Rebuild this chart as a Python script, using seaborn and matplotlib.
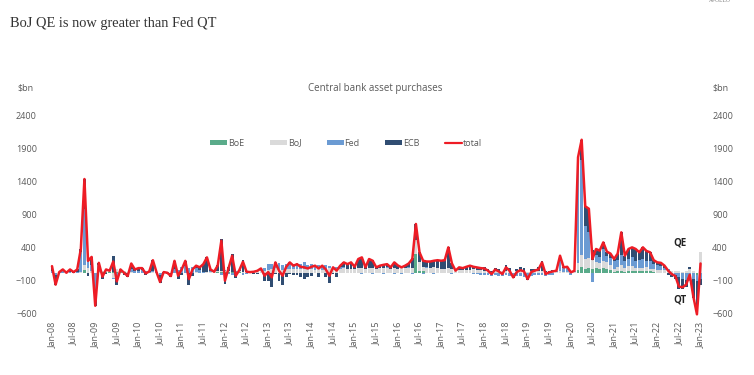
import numpy as np
import pandas as pd
import matplotlib
matplotlib.use("Agg")
import matplotlib.pyplot as plt
import seaborn as sns
from matplotlib.patches import Patch
from matplotlib.lines import Line2D

# monthly flows, $bn, Jan-08 .. Jan-23
months = pd.date_range("2008-01-01", "2023-01-01", freq="MS")

total = (
    [110, -170, 20, 60, 10, 60, 20, 60, 370, 1430, 190, 250]        # 2008
    + [-490, 160, -50, 60, 40, 180, -120, 60, 10, -40, 150, 60]     # 2009
    + [80, 80, 0, 30, 200, 20, -130, 20, 10, -40, 190, -35]         # 2010
    + [60, 190, -85, 60, 117, 92, 140, 243, 60, 25, 120, 495]       # 2011
    + [-110, 80, 268, -35, 50, 177, 25, 20, 25, 40, 75, -35]        # 2012
    + [20, -60, 167, 42, -35, 100, 167, 117, 140, 100, 92, 75]      # 2013
    + [100, 117, 75, 117, 60, -35, 92, 42, 117, 167, 140, 167]      # 2014
    + [100, 218, 243, 92, 218, 192, 92, 117, 130, 140, 92, 167]     # 2015
    + [120, 92, 117, 150, 218, 749, 320, 192, 180, 180, 192, 200]   # 2016
    + [192, 200, 395, 150, 42, 92, 80, 100, 117, 100, 90, 80]       # 2017
    + [75, 42, -10, 60, 30, -10, 92, 40, -60, 20, 50, 30]           # 2018
    + [-85, 20, 42, 60, 167, -10, 17, 30, 42, 268, 92, 100]         # 2019
    + [17, 40, 1760, 2025, 1017, 980, 218, 370, 345, 470, 330, 300] # 2020
    + [218, 300, 622, 268, 370, 395, 370, 320, 395, 340, 320, 200]  # 2021
    + [167, 160, 117, 42, -10, -40, -200, -210, -170, -20, -350, -620]  # 2022
    + [150]                                                         # 2023
)

fed = (
    [20, -20, 10, 20, 0, 10, 0, 10, 300, 850, 150, 100]
    + [-300, 100, 0, 40, 0, -20, -40, 30, 10, 0, 50, 30]
    + [30, 40, 20, 10, 20, 10, -20, 0, 10, 0, 60, 40]
    + [80, 100, 80, 90, 70, 40, 10, 0, 10, 0, 10, -20]
    + [20, -10, -20, 10, 0, -20, -10, 0, 10, 20, 30, 40]
    + [90, 80, 100, 90, 80, 90, 110, 80, 90, 80, 100, 70]
    + [70, 60, 60, 50, 50, 40, 40, 30, 30, 20, 0, 0]
    + [0, 10, -10, 0, 10, -10, 0, 0, -10, 10, 0, -10]
    + [0, -10, 0, 10, -10, 0, 0, -10, 10, 0, -10, 0]
    + [0, 0, 0, -10, 0, 0, 0, 0, 0, -10, -10, -20]
    + [-20, -20, -40, -20, -40, -40, -30, -40, -50, -40, -40, -50]
    + [-60, -40, -30, -30, -20, -40, -20, -20, 10, 150, 60, 60]
    + [-20, 10, 1550, 1450, 500, 400, -130, 100, 80, 180, 100, 120]
    + [120, 110, 150, 100, 110, 130, 110, 120, 140, 100, 120, 80]
    + [70, 60, 40, 20, -20, -30, -60, -80, -100, -120, -80, -100]
    + [-80]
)

ecb = (
    [80, -150, 0, 30, 0, 40, 10, 40, 50, 450, -40, 120]
    + [-200, 40, -80, -10, 10, 250, -140, 0, -30, -60, 80, 20]
    + [40, 30, -30, 10, 160, 0, -120, 10, -10, -50, 120, -90]
    + [-30, 80, -170, -40, 30, 40, 120, 220, 30, 0, 80, 480]
    + [-160, 60, 260, -70, 20, 170, 10, 0, -10, -10, 15, -110]
    + [-120, -210, -10, -110, -170, -50, -10, -30, -20, -50, -80, -60]
    + [-40, 0, -50, 10, -60, -150, -10, -50, 20, 70, 70, 100]
    + [30, 130, 170, 20, 130, 120, 20, 40, 60, 50, 20, 100]
    + [50, 20, 40, 60, 140, 250, 150, 100, 90, 100, 110, 120]
    + [120, 130, 320, 90, 0, 40, 30, 50, 60, 50, 50, 50]
    + [60, 30, 10, 50, 40, 0, 80, 40, -20, 30, 50, 40]
    + [-40, 30, 40, 50, 150, 10, 20, 30, 10, 80, 10, 20]
    + [10, 10, 50, 300, 300, 350, 150, 90, 100, 100, 60, 60]
    + [30, 100, 350, 80, 150, 150, 180, 120, 170, 150, 130, 60]
    + [40, 50, 30, -20, -30, -50, -180, -150, -110, 40, -300, -500]
    + [-100]
)

boj = (
    [10, 0, 10, 10, 10, 10, 10, 10, 10, 80, 70, 20]
    + [10, 20, 10, 10, 10, -70, 40, 10, 10, 10, 10, 10]
    + [10, 10, 10, 10, 20, 10, 10, 10, 10, 10, 10, 15]
    + [10, 10, 5, 10, 17, 12, 10, 23, 20, 15, 10, 15]
    + [10, 10, 10, 15, 10, 15, 15, 10, 15, 20, 20, 25]
    + [50, 70, 77, 62, 55, 60, 67, 67, 70, 70, 72, 65]
    + [70, 57, 65, 57, 70, 75, 62, 62, 67, 77, 70, 67]
    + [70, 78, 83, 72, 78, 82, 72, 77, 80, 80, 72, 77]
    + [70, 82, 77, 80, 88, 200, 130, 72, 70, 70, 82, 70]
    + [62, 60, 65, 60, 42, 52, 50, 50, 57, 60, 50, 50]
    + [35, 32, 20, 30, 30, 30, 42, 40, 10, 30, 40, 40]
    + [15, 30, 32, 40, 37, 20, 17, 20, 22, 38, 22, 20]
    + [27, 20, 110, 180, 150, 150, 130, 100, 100, 110, 100, 70]
    + [40, 60, 90, 60, 70, 80, 50, 50, 55, 60, 40, 40]
    + [50, 45, 40, 40, 40, 40, 40, 20, 40, 60, 30, 0]
    + [330]
)

boe = (
    [0, 0, 0, 0, 0, 0, 0, 0, 10, 50, 10, 10]
    + [0, 0, 20, 20, 20, 20, 20, 20, 20, 10, 10, 0]
    + [0] * 12
    + [0, 0, 0, 0, 0, 0, 0, 0, 0, 10, 20, 20]
    + [20, 20, 18, 10, 20, 12, 10, 10, 10, 10, 10, 10]
    + [0] * 36
    + [0, 0, 0, 0, 0, 300, 40, 30, 10, 10, 10, 10]
    + [10, 10, 10, 10, 0, 0, 0, 0, 0, 0, 0, 0]
    + [0] * 24
    + [0, 0, 50, 95, 67, 80, 68, 80, 65, 80, 70, 50]
    + [28, 30, 32, 28, 40, 35, 30, 30, 30, 30, 30, 20]
    + [7, 5, 7, 2, 0, 0, 0, 0, 0, 0, 0, -20]
    + [0]
)

BANKS = ["BoE", "BoJ", "Fed", "ECB"]
COLORS = {"BoE": "#5aab8a", "BoJ": "#dadada", "Fed": "#6b9bd3", "ECB": "#304d72"}
RED = "#ee1c25"
GREY = "#595959"

df = pd.DataFrame({"month": np.arange(len(months)), "total": total,
                   "BoE": boe, "BoJ": boj, "Fed": fed, "ECB": ecb})

sns.set_style("white")
plt.rcParams["font.family"] = ["Open Sans", "DejaVu Sans"]

fig = plt.figure(figsize=(7.54, 3.75), dpi=100)
ax = fig.add_axes([0.0618, 0.1565, 0.8697, 0.5368])

# stacked bars: positives upward, negatives downward
pos = np.zeros(len(df))
neg = np.zeros(len(df))
for b in BANKS:
    v = df[b].to_numpy(dtype=float)
    ax.bar(df["month"], v, bottom=np.where(v >= 0, pos, neg), width=0.8,
           color=COLORS[b], linewidth=0, zorder=2)
    pos += np.clip(v, 0, None)
    neg += np.clip(v, None, 0)

sns.lineplot(data=df, x="month", y="total", ax=ax, color=RED, linewidth=1.8, zorder=5)

ax.set_xlim(-1.5, len(df) - 0.5)
ax.set_ylim(-650, 2400)
ax.set_yticks(range(-600, 2401, 500))
ax.set_xticks(df["month"][::6])
ax.set_xticklabels([d.strftime("%b-%y") for d in months[::6]], rotation=90)
ax.tick_params(axis="x", length=0, pad=4, labelsize=6.5, labelcolor=GREY)
ax.tick_params(axis="y", length=0, pad=7, labelsize=6.5, labelcolor=GREY,
               labelleft=True, labelright=True)
ax.set_xlabel("")
ax.set_ylabel("")
sns.despine(ax=ax, left=True, bottom=True)

ax.text(174.2, 461, "QE", ha="center", va="center", fontsize=7, fontweight="bold", color="#222222")
ax.text(174.2, -403, "QT", ha="center", va="center", fontsize=7, fontweight="bold", color="#222222")

fig.text(17 / 754, 1 - 88 / 375, "$bn", ha="left", va="center", fontsize=6.5, color=GREY)
fig.text(712 / 754, 1 - 88 / 375, "$bn", ha="left", va="center", fontsize=6.5, color=GREY)
fig.text(375 / 754, 1 - 88 / 375, "Central bank asset purchases", ha="center", va="center",
         fontsize=7, color=GREY)

fig.text(10 / 754, 1 - 24 / 375, "BoJ QE is now greater than Fed QT", ha="left", va="center",
         fontsize=10.4, color="#333333", family=["Liberation Serif", "DejaVu Serif"])
fig.text(720 / 754, 1.004, "APOLLO", ha="center", va="top", fontsize=4, color="#777777",
         family=["Liberation Serif", "DejaVu Serif"])

handles = [Patch(facecolor=COLORS[b], edgecolor="none", label=b) for b in BANKS]
handles.append(Line2D([], [], color=RED, linewidth=1.6, label="total"))
fig.legend(handles=handles, loc="center", bbox_to_anchor=(346 / 754, 1 - 143 / 375),
           ncol=5, frameon=False, fontsize=6.5, labelcolor=GREY, handlelength=1.9,
           handleheight=0.55, handletextpad=0.1, columnspacing=2.8)

fig.savefig("out.png", dpi=100)
